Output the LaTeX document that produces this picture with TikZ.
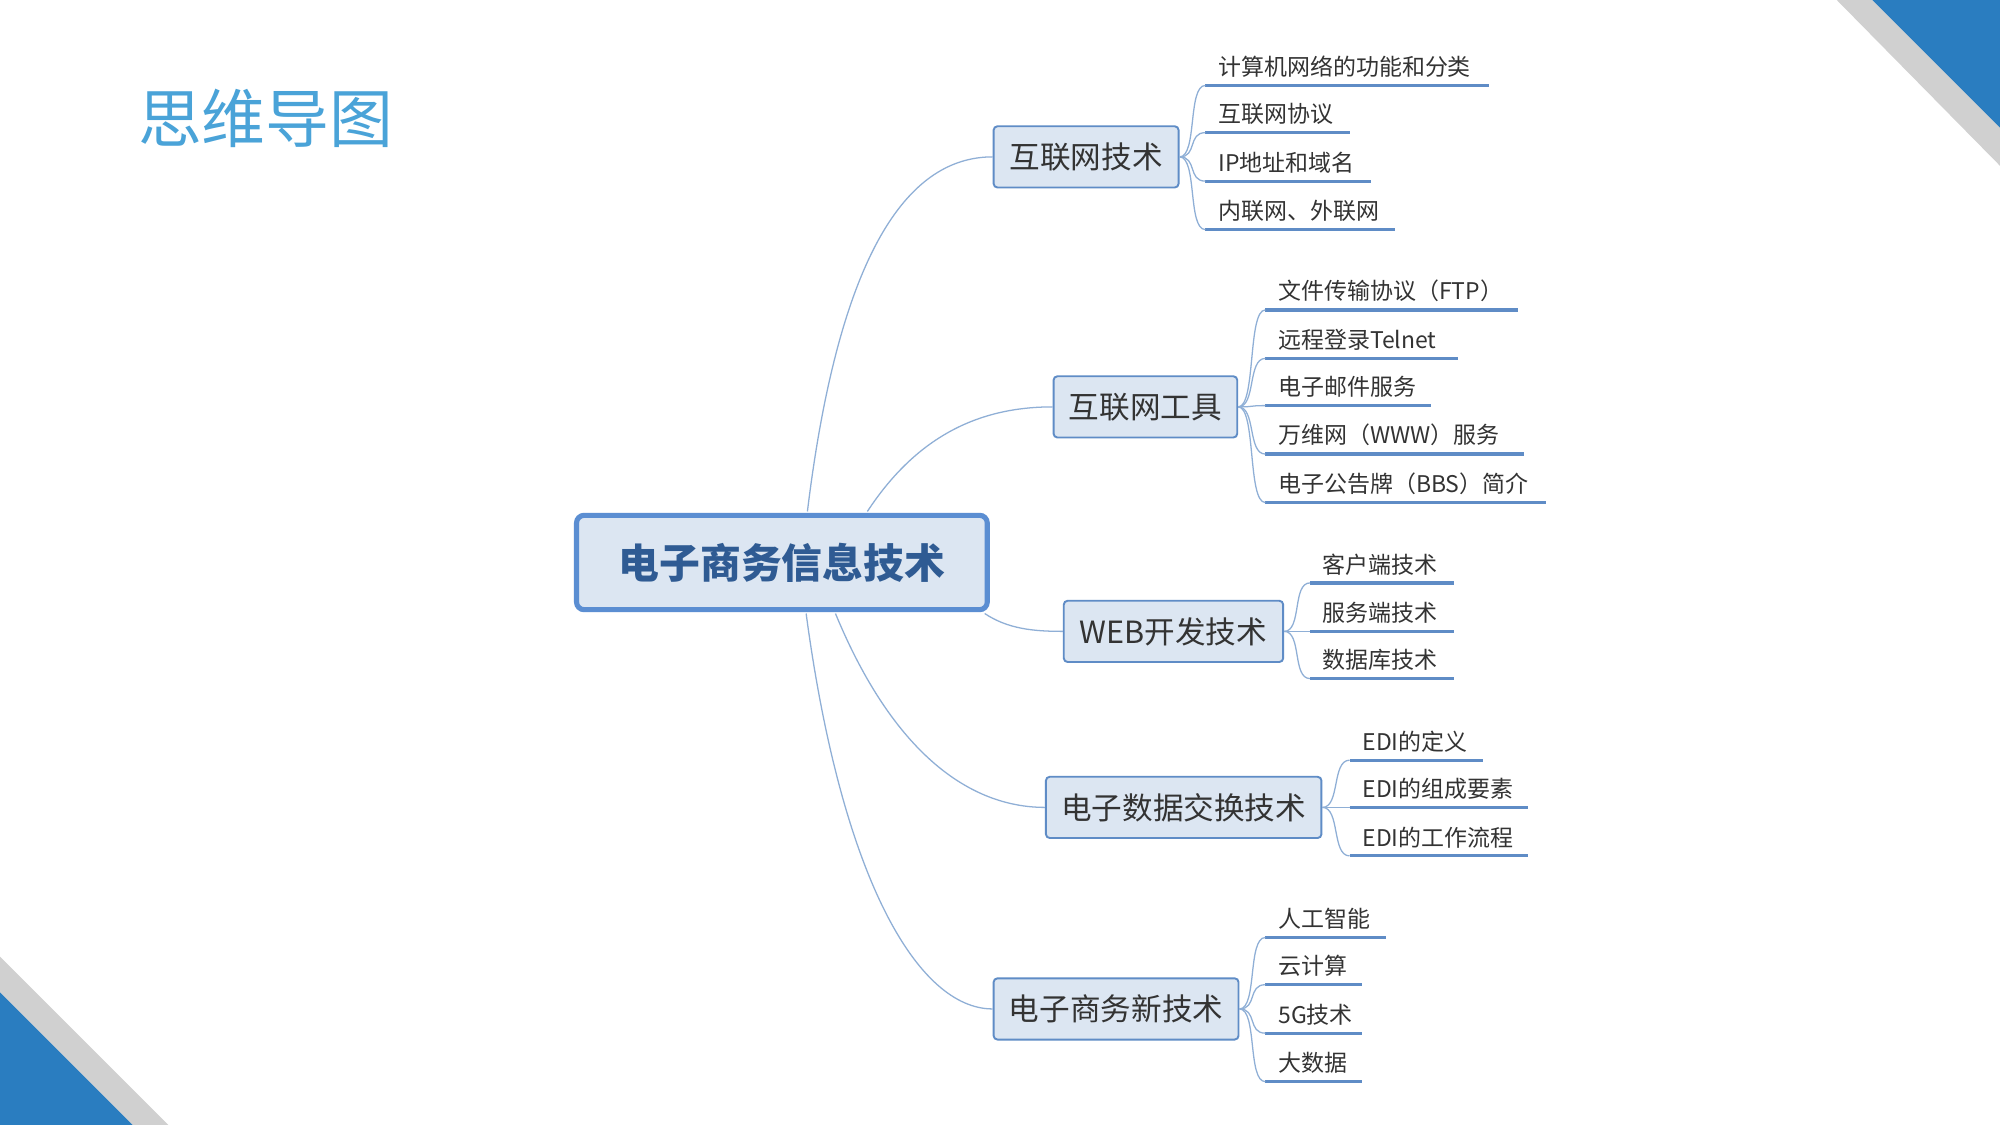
\documentclass[tikz,border=0pt]{standalone}
\usepackage{fontspec}
\setmainfont{Noto Sans CJK SC}
\newfontfamily\cjkb[BoldFont={Noto Sans CJK SC Bold}]{Noto Sans CJK SC}
\definecolor{boxfill}{HTML}{DCE6F2}
\definecolor{boxline}{HTML}{5F8CC6}
\definecolor{conn}{HTML}{8FAFD6}
\definecolor{rootline}{HTML}{5B8ED2}
\definecolor{roottext}{HTML}{2F5B93}
\definecolor{titlec}{HTML}{4AA3D8}
\definecolor{cornerblue}{HTML}{2A7DC0}
\definecolor{cornergray}{HTML}{D0D0D0}
\tikzset{
  branchbox/.style={draw=boxline, line width=1.5pt, fill=boxfill, rounded corners=3pt, minimum height=48pt, inner xsep=12pt, font=\fontsize{24}{28}\selectfont, text=black!80},
  conline/.style={draw=conn, line width=1pt},
  leafline/.style={draw=boxline, line width=2.5pt},
  leaftext/.style={anchor=south west, inner sep=0pt, font=\fontsize{18}{20}\selectfont, text=black!80}
}
\newcommand\myleaf[6]{% branch, name, xstart, y, xend, text
  \coordinate (#2s) at (#3,#4);
  \coordinate (#2e) at (#5,#4);
  \draw[leafline] (#2s) -- (#2e);
  \node[leaftext] (#2t) at (#3+10,#4-6) {#6};
  \draw[conline] (#1.east) .. controls ([xshift=14pt]#1.east) and ([xshift=-14pt]#2s) .. (#2s);
}
\begin{document}
\begin{tikzpicture}[x=1pt,y=-1pt]
\useasboundingbox (0,0) rectangle (1568,882);
\fill[white] (0,0) rectangle (1568,882);
% corners
\fill[cornergray] (1440,0) -- (1468,0) -- (1568,100) -- (1568,130) -- cycle;
\fill[cornerblue] (1468,0) -- (1568,0) -- (1568,100) -- cycle;
\fill[cornergray] (0,750) -- (0,778) -- (104,882) -- (132,882) -- cycle;
\fill[cornerblue] (0,778) -- (0,882) -- (104,882) -- cycle;
% title
\node[anchor=west, text=titlec, font=\fontsize{50}{56}\selectfont, inner sep=0pt] (title) at (108,93) {思维导图};
% root
\node[draw=rootline, line width=4pt, fill=boxfill, rounded corners=6pt, minimum width=322pt, minimum height=74pt, font=\fontsize{32}{36}\selectfont\bfseries, text=roottext] (root) at (613,441) {电子商务信息技术};
% branches
\node[branchbox, minimum width=145pt] (b1) at (851.5,123) {互联网技术};
\node[branchbox, minimum width=144pt] (b2) at (898,319) {互联网工具};
\node[branchbox, minimum width=172pt] (b3) at (920,495) {WEB开发技术};
\node[branchbox, minimum width=216pt] (b4) at (928,633) {电子数据交换技术};
\node[branchbox, minimum width=192pt] (b5) at (875,791) {电子商务新技术};
% root connectors
\coordinate (r1) at (633,401);
\coordinate (r2) at (680,401);
\coordinate (r3) at (772,481);
\coordinate (r4) at (655,481);
\coordinate (r5) at (632,481);
\draw[conline] (r1) .. controls (660,180) and (720,123) .. (b1.west);
\draw[conline] (r2) .. controls (720,340) and (770,319) .. (b2.west);
\draw[conline] (r3) .. controls (790,493) and (810,495) .. (b3.west);
\draw[conline] (r4) .. controls (700,590) and (760,633) .. (b4.west);
\draw[conline] (r5) .. controls (660,690) and (720,791) .. (b5.west);
% leaves
\myleaf{b1}{a1}{945}{67}{1167}{计算机网络的功能和分类}
\myleaf{b1}{a2}{945}{104}{1058}{互联网协议}
\myleaf{b1}{a3}{945}{142}{1075}{IP地址和域名}
\myleaf{b1}{a4}{945}{180}{1094}{内联网、外联网}
\myleaf{b2}{c1}{992}{243}{1190}{文件传输协议（FTP）}
\myleaf{b2}{c2}{992}{281}{1143}{远程登录Telnet}
\myleaf{b2}{c3}{992}{318}{1122}{电子邮件服务}
\myleaf{b2}{c4}{992}{356}{1195}{万维网（WWW）服务}
\myleaf{b2}{c5}{992}{394}{1212}{电子公告牌（BBS）简介}
\myleaf{b3}{d1}{1027}{457}{1140}{客户端技术}
\myleaf{b3}{d2}{1027}{495}{1140}{服务端技术}
\myleaf{b3}{d3}{1027}{532}{1140}{数据库技术}
\myleaf{b4}{e1}{1058}{596}{1163}{EDI的定义}
\myleaf{b4}{e2}{1058}{633}{1198}{EDI的组成要素}
\myleaf{b4}{e3}{1058}{671}{1198}{EDI的工作流程}
\myleaf{b5}{f1}{992}{735}{1087}{人工智能}
\myleaf{b5}{f2}{992}{772}{1068}{云计算}
\myleaf{b5}{f3}{992}{810}{1068}{5G技术}
\myleaf{b5}{f4}{992}{848}{1068}{大数据}
\end{tikzpicture}
\end{document}
